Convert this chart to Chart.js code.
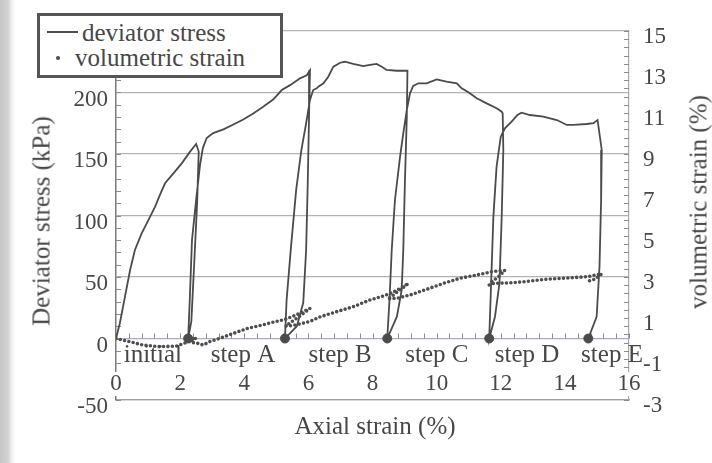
<!DOCTYPE html>
<html>
<head>
<meta charset="utf-8">
<script src="https://cdn.jsdelivr.net/npm/chart.js@4.4.1/dist/chart.umd.min.js"></script>
<style>
html,body{margin:0;padding:0;}
body{width:712px;height:463px;overflow:hidden;background:linear-gradient(to right,#c6c6c6 0px,#d2d2d2 8px,#f2f2f2 12px,#ffffff 16px);font-family:"Liberation Serif","Times New Roman",serif;color:#474747;}
#wrap{position:relative;width:712px;height:463px;}
#c{position:absolute;left:0;top:0;}
.title{position:absolute;font-size:25px;white-space:nowrap;line-height:1;transform-origin:center center;}
#legend{position:absolute;left:37px;top:13px;width:240px;height:59px;border:3px solid #555;background:#fff;font-size:25px;line-height:1;}
#legend .row{position:absolute;white-space:nowrap;}
#legend .ln{position:absolute;height:2px;background:#4d4d4d;}
#legend .dot{position:absolute;width:4px;height:4px;border-radius:50%;background:#4d4d4d;}
</style>
</head>
<body>
<div id="wrap">
<canvas id="c" width="712" height="463"></canvas>
<div id="legend">
  <div class="ln" style="left:7px;top:15px;width:31px;"></div>
  <div class="row" style="left:42px;top:4px;">deviator stress</div>
  <div class="dot" style="left:16px;top:40px;"></div>
  <div class="row" style="left:35px;top:29px;">volumetric strain</div>
</div>
<div class="title" style="left:41px;top:221px;transform:translate(-50%,-50%) rotate(-90deg);">Deviator stress (kPa)</div>
<div class="title" style="left:698px;top:202px;transform:translate(-50%,-50%) rotate(-90deg);">volumetric strain (%)</div>
<div class="title" style="left:375px;top:425px;transform:translate(-50%,-50%);">Axial strain (%)</div>
</div>
<script>
// ---- deviator stress path (axial strain %, kPa) ----
const devStrain = [
  0, 0.12, 0.28, 0.44, 0.59, 0.80, 1.01, 1.22, 1.37, 1.53, 1.79, 2.05, 2.31, 2.50,   // initial loading
  2.58, 2.53, 2.43, 2.35, 2.25,                                                     // unloading
  2.30, 2.37, 2.50, 2.62, 2.71, 2.83, 3.03, 3.35, 3.66, 3.97, 4.28, 4.59, 4.91, 5.17, 5.43, 5.74, 5.95, 6.05, // step A
  6.02, 5.98, 5.93, 5.84, 5.64, 5.27,                                               // unloading
  5.32, 5.45, 5.62, 5.78, 5.93, 6.05, 6.15, 6.26, 6.31, 6.47, 6.62, 6.78, 6.99, 7.14, 7.40, 7.71, 7.92, 8.13, 8.29, 8.44, 8.76, 9.09, // step B
  9.07, 9.01, 8.96, 8.91, 8.76, 8.46,                                               // unloading
  8.53, 8.60, 8.70, 8.86, 8.96, 9.07, 9.17, 9.27, 9.43, 9.69, 10.00, 10.31, 10.63, 10.78, 10.98, 11.25, 11.56, 11.87, 12.03, 12.06, // step C
  12.08, 12.03, 11.96, 11.82, 11.64,                                                // unloading
  11.70, 11.77, 11.87, 12.00, 12.13, 12.34, 12.52, 12.65, 12.91, 13.33, 13.75, 14.06, 14.26, 14.68, 14.89, 15.02, // step D
  15.15, 15.13, 15.08, 14.99, 14.73                                                 // unloading
];
const devStress = [
  0, 12.4, 34, 55.7, 72, 85.5, 96.3, 107.2, 116.7, 126.2, 134.3, 142.4, 151.9, 158.1,
  152, 110, 56, 14, 0,
  31, 80, 113, 141, 155, 163, 167, 170, 174, 178, 183, 188.5, 194.5, 202, 206, 211.5, 214, 218,
  180, 126, 72, 29, 10, 0,
  31, 72, 121, 153, 175, 194, 202, 203.4, 204.7, 207.5, 212.8, 221, 224.2, 225, 223.2, 221.5, 222.4, 223.2, 221, 218.3, 217.7, 217.7,
  180.3, 126.2, 72, 39.4, 17.7, 0,
  31.3, 72, 112.6, 147.8, 166.8, 185.8, 199.3, 205.3, 207.5, 207.5, 210.7, 208.8, 207.5, 203.4, 200.4, 195.3, 191.2, 187.2, 184.4, 183.1,
  153.3, 99.1, 44.9, 17.7, 0,
  44.9, 99.1, 139.7, 164.1, 170.9, 176.3, 181.7, 183.6, 181.7, 180.3, 177.6, 173.6, 173.6, 174.4, 175, 177.6,
  153.3, 112.6, 58.4, 17.7, 0
];
// ---- volumetric strain path (axial strain %, volumetric strain %) ----
const volStrain = [
  0, 0.44, 0.84, 1.37, 1.89, 2.15, 2.31, 2.50,
  2.37, 2.25,
  2.40, 2.56, 2.72, 2.93, 3.24, 3.66, 4.08, 4.49, 4.91, 5.27, 5.65, 6.05,
  5.74, 5.43, 5.29,
  5.49, 5.74, 6.05, 6.36, 6.88, 7.40, 7.92, 8.34, 8.73, 9.12,
  8.86, 8.61, 8.47,
  8.76, 9.17, 9.69, 10.21, 10.73, 11.35, 11.76, 12.13,
  11.92, 11.67, 11.64,
  11.77, 12.39, 12.91, 13.43, 13.95, 14.47, 14.73, 14.94, 15.15,
  14.94, 14.73
];
const volValue = [
  0, -0.16, -0.32, -0.40, -0.37, -0.22, -0.07, 0.02,
  -0.07, -0.12,
  -0.20, -0.24, -0.32, -0.15, 0.01, 0.25, 0.48, 0.63, 0.80, 0.93, 1.17, 1.47,
  1.10, 0.76, 0.61,
  0.63, 0.71, 0.83, 1.05, 1.31, 1.55, 1.88, 2.07, 2.32, 2.69,
  2.37, 2.07, 1.93,
  1.96, 2.12, 2.40, 2.69, 2.94, 3.13, 3.27, 3.32,
  3.00, 2.71, 2.61,
  2.69, 2.72, 2.80, 2.89, 2.94, 2.99, 3.02, 3.10, 3.15,
  2.90, 2.80
];
// ---- step start markers ----
const stepStrain = [2.25, 5.27, 8.46, 11.64, 14.73];
const stepStress = [0, 0, 0, 0, 0];
// ---- step annotations ----
const stepNames = ['initial', 'step A', 'step B', 'step C', 'step D', 'step E'];
const stepNameStrain = [1.15, 3.96, 6.99, 10.01, 12.82, 15.47];
const stepNameStress = -14;
const xLabelStress = -37;   // x tick labels sit inside the frame, above the -50 line
// ---- axis ticks ----
const xTicks = {min: 0, max: 16, step: 2};
const yTicks = {min: -50, max: 250, step: 50};
const y2Ticks = {min: -3, max: 15, step: 2};

const devPts = devStrain.map((x, i) => ({x, y: devStress[i]}));
const volPts = volStrain.map((x, i) => ({x, y: volValue[i]}));
const stepPts = stepStrain.map((x, i) => ({x, y: stepStress[i]}));

const serif = '"Liberation Serif", "Times New Roman", serif';
const textCol = '#474747';

const overlay = {
  id: 'overlay',
  beforeDatasetsDraw(chart) {
    const {ctx, chartArea: a, scales: {x, y, y2}} = chart;
    ctx.save();
    ctx.strokeStyle = '#8c8c8c';
    ctx.lineWidth = 1;
    ctx.beginPath();
    for (let i = 0; i <= 30; i++) {
      const p = Math.round(y.getPixelForValue(-50 + i * 10)) + 0.5;
      ctx.moveTo(a.left, p); ctx.lineTo(a.left + 5, p);
    }
    for (let i = 0; i <= 45; i++) {
      const p = Math.round(y2.getPixelForValue(-3 + i * 0.4)) + 0.5;
      ctx.moveTo(a.right - 5, p); ctx.lineTo(a.right, p);
    }
    const y0 = y.getPixelForValue(0);
    for (let i = 0; i <= 40; i++) {
      const p = Math.round(x.getPixelForValue(i * 0.4)) + 0.5;
      ctx.moveTo(p, y0); ctx.lineTo(p, y0 - 5);
    }
    ctx.stroke();
    ctx.restore();
  },
  afterDraw(chart) {
    const {ctx, scales: {x, y}} = chart;
    ctx.save();
    ctx.textAlign = 'center';
    ctx.textBaseline = 'middle';
    ctx.font = '25px ' + serif;
    ctx.fillStyle = textCol;
    stepNames.forEach((n, i) => {
      ctx.fillText(n, x.getPixelForValue(stepNameStrain[i]), y.getPixelForValue(stepNameStress));
    });
    ctx.font = '23px ' + serif;
    const ly = y.getPixelForValue(xLabelStress);
    x.ticks.forEach(t => {
      const px = x.getPixelForValue(t.value);
      const w = ctx.measureText(String(t.value)).width;
      ctx.fillStyle = '#ffffff';
      ctx.fillRect(px - w / 2 - 2, ly - 12, w + 4, 24);
      ctx.fillStyle = textCol;
      ctx.fillText(String(t.value), px, ly);
    });
    ctx.restore();
  }
};

new Chart(document.getElementById('c'), {
  type: 'scatter',
  data: {
    datasets: [
      {label: 'deviator stress', data: devPts, showLine: true, borderColor: '#4b4b4b', borderWidth: 1.8,
       pointRadius: 0, tension: 0, yAxisID: 'y', order: 2},
      {label: 'volumetric strain', data: volPts, showLine: true, borderColor: '#4e4e4e', borderWidth: 3.6,
       borderDash: [0, 4.4], borderCapStyle: 'round', pointRadius: 0, tension: 0, yAxisID: 'y2', order: 1},
      {label: 'step start', data: stepPts, showLine: false, pointRadius: 4.5, pointBackgroundColor: '#4b4b4b',
       pointBorderColor: '#4b4b4b', yAxisID: 'y', order: 0}
    ]
  },
  options: {
    responsive: false,
    animation: false,
    devicePixelRatio: 1,
    layout: {padding: {top: 31, left: 0, right: 0, bottom: 0}},
    plugins: {legend: {display: false}, tooltip: {enabled: false}},
    scales: {
      x: {
        type: 'linear', position: 'bottom', min: xTicks.min, max: xTicks.max,
        ticks: {stepSize: xTicks.step, display: false},
        grid: {display: false, drawTicks: false},
        border: {display: true, color: '#a0a0a0', width: 1.2},
        afterFit(s) { s.height = 63; }
      },
      y: {
        position: 'left', min: yTicks.min, max: yTicks.max,
        ticks: {stepSize: yTicks.step, padding: 8, labelOffset: 7, font: {family: serif, size: 23}, color: textCol},
        grid: {drawTicks: false, lineWidth: 1.2,
               color: c => (c.tick && c.tick.value === 0) ? '#a9a9d9' : '#b3b3b3'},
        border: {display: true, color: '#7a7a7a', width: 1.5},
        afterFit(s) { s.width = 116; }
      },
      y2: {
        position: 'right', min: y2Ticks.min, max: y2Ticks.max,
        ticks: {stepSize: y2Ticks.step, padding: 14, labelOffset: 6, font: {family: serif, size: 23}, color: textCol},
        grid: {display: false, drawTicks: false},
        border: {display: true, color: '#a8a8a8', width: 1.2},
        afterFit(s) { s.width = 83; }
      }
    }
  },
  plugins: [overlay]
});
</script>
</body>
</html>
